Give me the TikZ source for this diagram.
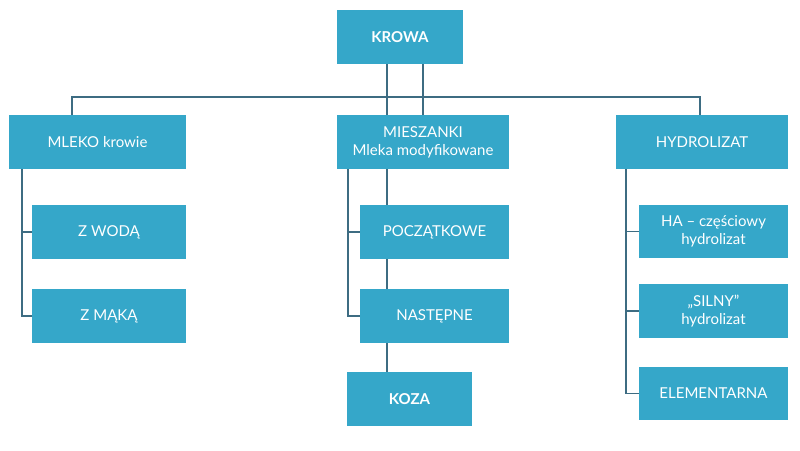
\documentclass[tikz,border=0pt]{standalone}
\usepackage{fontspec}
\setmainfont{Lato}
\definecolor{boxc}{HTML}{35A7C9}
\definecolor{linec}{HTML}{3D6C82}
\begin{document}
\begin{tikzpicture}[x=1pt,y=-1pt,
  box/.style={fill=boxc,text=white,inner sep=0pt,align=center,font=\fontsize{15}{18}\selectfont},
  conn/.style={draw=linec,line width=1.6pt}]
\useasboundingbox[fill=white] (0,0) rectangle (800,450);
\node[box,minimum width=126pt,minimum height=54pt,font=\fontsize{15}{18}\selectfont\bfseries] (krowa) at (400,37) {KROWA};
\node[box,minimum width=177pt,minimum height=54pt] (mleko) at (97.5,142) {MLEKO krowie};
\node[box,minimum width=172pt,minimum height=54pt] (mies) at (423,142) {MIESZANKI\\Mleka modyfikowane};
\node[box,minimum width=172pt,minimum height=54pt] (hydro) at (702,142) {HYDROLIZAT};
\node[box,minimum width=154pt,minimum height=54pt] (zwoda) at (109,232) {Z WODĄ};
\node[box,minimum width=154pt,minimum height=54pt] (zmaka) at (109,316) {Z MĄKĄ};
\node[box,minimum width=149pt,minimum height=54pt] (pocz) at (434.5,232) {POCZĄTKOWE};
\node[box,minimum width=149pt,minimum height=54pt] (nast) at (434.5,316) {NASTĘPNE};
\node[box,minimum width=125pt,minimum height=54pt,font=\fontsize{15}{18}\selectfont\bfseries] (koza) at (409.5,399) {KOZA};
\node[box,minimum width=149pt,minimum height=53pt] (ha) at (713.5,231.5) {HA – częściowy\\hydrolizat};
\node[box,minimum width=149pt,minimum height=54pt] (silny) at (713.5,311) {„SILNY”\\hydrolizat};
\node[box,minimum width=149pt,minimum height=53pt] (elem) at (713.5,393.5) {ELEMENTARNA};
\coordinate (busL) at (72,97);
\coordinate (busR) at (700,97);
\coordinate (k1) at (387,0);
\coordinate (k2) at (423,0);
\coordinate (mx) at (22,0);
\coordinate (sx) at (348,0);
\coordinate (hx) at (626,0);
% top
\draw[conn] (krowa.south -| k1) -- (mies.north -| k1);
\draw[conn] (krowa.south -| k2) -- (mies.north -| k2);
\draw[conn] (mleko.north -| busL) -- (busL) -- (busR) -- (hydro.north -| busR);
% mleko
\draw[conn] (mleko.south -| mx) -- (zmaka.west -| mx) -- (zmaka.west);
\draw[conn] (zwoda.west -| mx) -- (zwoda.west);
% mieszanki
\draw[conn] (mies.south -| sx) -- (nast.west -| sx) -- (nast.west);
\draw[conn] (pocz.west -| sx) -- (pocz.west);
\draw[conn] (mies.south -| k1) -- (pocz.north -| k1);
\draw[conn] (pocz.south -| k1) -- (nast.north -| k1);
\draw[conn] (nast.south -| k1) -- (koza.north -| k1);
% hydrolizat
\draw[conn] (hydro.south -| hx) -- (elem.west -| hx) -- (elem.west);
\draw[conn] (ha.west -| hx) -- (ha.west);
\draw[conn] (silny.west -| hx) -- (silny.west);
\end{tikzpicture}
\end{document}
